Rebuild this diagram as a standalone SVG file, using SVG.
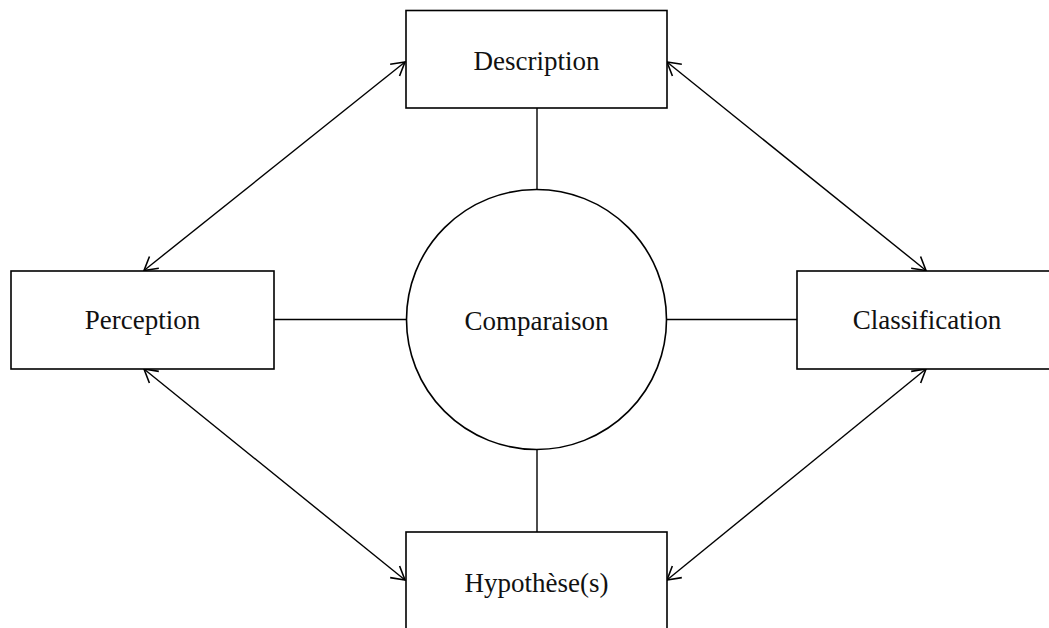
<svg xmlns="http://www.w3.org/2000/svg" width="1049" height="628" viewBox="0 0 1049 628">
<style>
.box{fill:#fff;stroke:#000;stroke-width:1.6}
.lbl{font-family:"Liberation Serif","Times New Roman",serif;font-size:27px;fill:#111;text-anchor:middle}
.ln{stroke:#000;stroke-width:1.4;fill:none}
.ar{stroke:#000;stroke-width:1.4;fill:none;marker-start:url(#ah);marker-end:url(#ah)}
</style>
<defs>
<marker id="ah" markerUnits="userSpaceOnUse" viewBox="-16 -10 18 20" refX="0" refY="0" markerWidth="18" markerHeight="20" orient="auto-start-reverse">
<path d="M-13,-7.5 L0,0 L-13,7.5" fill="none" stroke="#000" stroke-width="1.6"/>
</marker>
</defs>
<g id="connectors">
<line class="ln" x1="537" y1="108" x2="537" y2="189.5"/>
<line class="ln" x1="537" y1="449.5" x2="537" y2="532"/>
<line class="ln" x1="274" y1="319.5" x2="406" y2="319.5"/>
<line class="ln" x1="666" y1="319.5" x2="797" y2="319.5"/>
<line class="ar" x1="405" y1="62" x2="144" y2="270.5"/>
<line class="ar" x1="667" y1="62" x2="926" y2="270.5"/>
<line class="ar" x1="144" y1="369" x2="405" y2="580"/>
<line class="ar" x1="926" y1="369" x2="667" y2="580"/>
</g>
<g id="description">
<rect class="box" x="406" y="10.5" width="261" height="97.5"/>
<text class="lbl" x="536.5" y="70">Description</text>
</g>
<g id="perception">
<rect class="box" x="11" y="271" width="263" height="98"/>
<text class="lbl" x="142.5" y="329">Perception</text>
</g>
<g id="comparaison">
<circle class="box" cx="536.5" cy="319.5" r="130"/>
<text class="lbl" x="536.5" y="330">Comparaison</text>
</g>
<g id="classification">
<rect class="box" x="797" y="271" width="262" height="98"/>
<text class="lbl" x="927" y="329">Classification</text>
</g>
<g id="hypotheses">
<rect class="box" x="406" y="532" width="261" height="98"/>
<text class="lbl" x="536.5" y="592">Hypothèse(s)</text>
</g>
</svg>
